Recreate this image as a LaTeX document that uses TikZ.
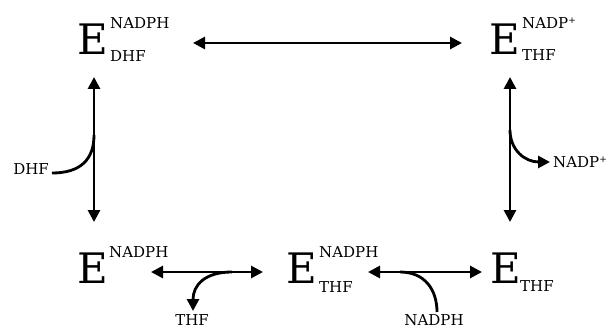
\documentclass[tikz,border=0pt]{standalone}
\usepackage{fontspec}
\setmainfont{DejaVu Serif}
\usetikzlibrary{arrows.meta}
\tikzset{
  big/.style={inner sep=0pt, anchor=base west, font=\fontsize{42}{42}\selectfont},
  idx/.style={inner sep=0pt, anchor=base west, font=\fontsize{15}{15}\selectfont},
  species/.style={inner sep=0pt, font=\fontsize{15}{15}\selectfont},
  conn/.style={line width=2.8pt},
  both/.style={conn, {Triangle[length=12pt,width=12pt]}-{Triangle[length=12pt,width=12pt]}},
  one/.style={conn, -{Triangle[length=12pt,width=12pt]}},
}
\newcommand{\plusup}{\raisebox{5pt}{\fontsize{9}{9}\selectfont+}}
\begin{document}
\begin{tikzpicture}[x=1pt,y=-1pt]
\useasboundingbox (0,0) rectangle (608,329);

% enzyme states
\node[big] (e1) at (77,55) {E};
\node[idx] (e1p) at (110,29) {NADPH};
\node[idx] (e1b) at (110,62) {DHF};

\node[big] (e2) at (489,55) {E};
\node[idx] (e2p) at (522,29) {NADP\plusup};
\node[idx] (e2b) at (522,61) {THF};

\node[big] (e3) at (77,283) {E};
\node[idx] (e3p) at (109,257) {NADPH};

\node[big] (e4) at (286,283) {E};
\node[idx] (e4p) at (319,257) {NADPH};
\node[idx] (e4b) at (319,292) {THF};

\node[big] (e5) at (490,283) {E};
\node[idx] (e5b) at (520,291) {THF};

% free species
\node[species, anchor=base east] (dhf) at (49,174) {DHF};
\node[species, anchor=base west] (nadpout) at (553,167) {NADP\plusup};
\node[species, anchor=base] (thf) at (192,325) {THF};
\node[species, anchor=base] (nadph) at (434,325) {NADPH};

% arrow end points
\coordinate (t1) at (193,43);  \coordinate (t2) at (462,43);
\coordinate (l1) at (94,77);   \coordinate (l2) at (94,222);
\coordinate (r1) at (510,77);  \coordinate (r2) at (510,222);
\coordinate (b1) at (151,272); \coordinate (b2) at (263,272);
\coordinate (c1) at (368,272); \coordinate (c2) at (482,272);

\coordinate (dhfin) at (52,173);   \coordinate (dhfj) at (94,135);
\coordinate (nadpj) at (510,130);  \coordinate (nadpt) at (550,162);
\coordinate (thfj) at (232,272);   \coordinate (thft) at (193,311);
\coordinate (nadphj) at (400,272); \coordinate (nadphin) at (437,312);

% reversible steps
\draw[both] (t1) -- (t2);
\draw[both] (l1) -- (l2);
\draw[both] (r1) -- (r2);
\draw[both] (b1) -- (b2);
\draw[both] (c1) -- (c2);

% substrate entry and product release
\draw[conn] (dhfin) .. controls (80,173) and (94,160) .. (dhfj);
\draw[one] (nadpj) .. controls (510,150) and (525,162) .. (nadpt);
\draw[one] (thfj) .. controls (205,272) and (193,285) .. (thft);
\draw[conn] (nadphj) .. controls (425,272) and (437,290) .. (nadphin);
\end{tikzpicture}
\end{document}
